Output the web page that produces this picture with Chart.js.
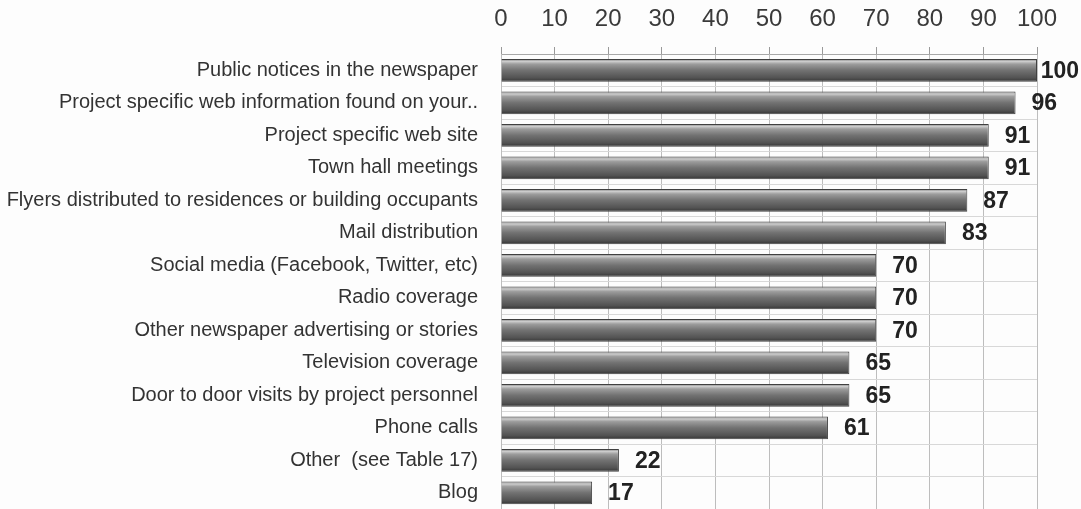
<!DOCTYPE html>
<html>
<head>
<meta charset="utf-8">
<script src="https://cdn.jsdelivr.net/npm/chart.js@4/dist/chart.umd.min.js"></script>
<style>
html,body{margin:0;padding:0;background:#fdfdfd;}
#c{display:block;}
</style>
</head>
<body>
<canvas id="c" width="1081" height="509"></canvas>
<script>
const categories = [
  "Public notices in the newspaper",
  "Project specific web information found on your..",
  "Project specific web site",
  "Town hall meetings",
  "Flyers distributed to residences or building occupants",
  "Mail distribution",
  "Social media (Facebook, Twitter, etc)",
  "Radio coverage",
  "Other newspaper advertising or stories",
  "Television coverage",
  "Door to door visits by project personnel",
  "Phone calls",
  "Other  (see Table 17)",
  "Blog"
];
const values = [100, 96, 91, 91, 87, 83, 70, 70, 70, 65, 65, 61, 22, 17];
const axisMin = 0;
const axisMax = 100;
const axisStep = 10;

const FONT = "'Liberation Sans', Arial, sans-serif";

function barGradient(context) {
  const chart = context.chart;
  const yScale = chart.scales.y;
  if (!yScale || context.type !== 'data') return '#666';
  const yc = yScale.getPixelForValue(context.dataIndex);
  if (!isFinite(yc)) return '#666';
  const h = 22;
  const g = chart.ctx.createLinearGradient(0, yc - h / 2, 0, yc + h / 2);
  g.addColorStop(0, '#888');
  g.addColorStop(0.1, '#cccccc');
  g.addColorStop(0.22, '#9c9c9c');
  g.addColorStop(0.5, '#727272');
  g.addColorStop(0.85, '#525252');
  g.addColorStop(1, '#383838');
  return g;
}

const valueLabels = {
  id: 'valueLabels',
  afterDatasetsDraw(chart) {
    const ctx = chart.ctx;
    const meta = chart.getDatasetMeta(0);
    ctx.save();
    ctx.font = "bold 23px " + FONT;
    ctx.fillStyle = '#222';
    ctx.textBaseline = 'middle';
    ctx.textAlign = 'left';
    meta.data.forEach((bar, i) => {
      const txt = String(values[i]);
      const w = ctx.measureText(txt).width;
      let x = bar.x + 16;
      if (x + w > chart.width - 2) x = Math.max(bar.x, chart.width - 2 - w);
      ctx.fillText(txt, x, bar.y + 1);
    });
    ctx.restore();
  }
};

const chart = new Chart(document.getElementById('c'), {
  type: 'bar',
  data: {
    labels: categories,
    datasets: [{
      data: values,
      backgroundColor: barGradient,
      borderColor: '#404040',
      borderWidth: 1,
      barPercentage: 0.7,
      categoryPercentage: 1
    }]
  },
  options: {
    indexAxis: 'y',
    responsive: false,
    animation: false,
    devicePixelRatio: 1,
    layout: { padding: { left: 0, right: 44, top: 0, bottom: 0 } },
    plugins: { legend: { display: false }, tooltip: { enabled: false } },
    scales: {
      x: {
        position: 'top',
        min: axisMin,
        max: axisMax,
        ticks: { stepSize: axisStep, color: '#3a3a3a', font: { family: FONT, size: 24 }, padding: 13 },
        grid: { color: '#bdbdbd', lineWidth: 1, tickLength: 7, tickColor: '#999' },
        border: { color: '#a8a8a8' },
        afterFit(s) { s.height = 54; s.paddingTop = 0; s.paddingBottom = 0; }
      },
      y: {
        ticks: { color: '#333', font: { family: FONT, size: 20 }, padding: 23 },
        grid: { color: '#d8d8d8', drawTicks: false },
        border: { color: '#bdbdbd' },
        afterFit(s) { s.width = 501; s.paddingTop = 0; s.paddingBottom = 0; }
      }
    }
  },
  plugins: [valueLabels]
});
chart.update();
</script>
</body>
</html>
